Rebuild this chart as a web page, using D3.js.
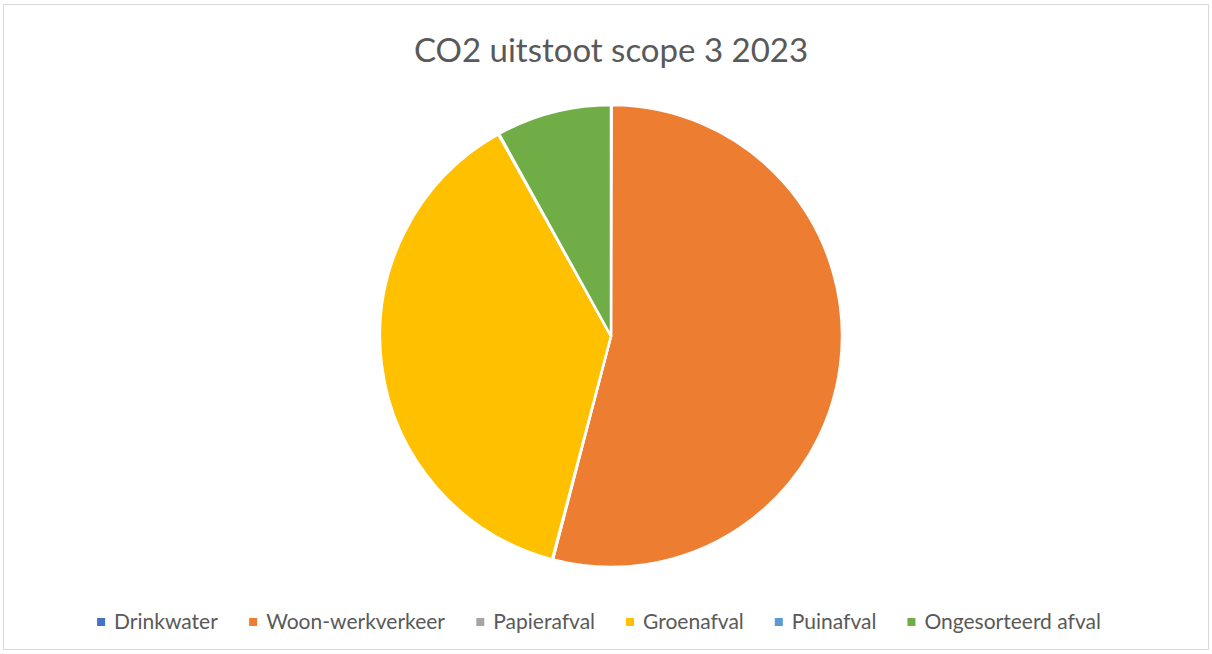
<!DOCTYPE html>
<html><head><meta charset="utf-8">
<script src="https://cdn.jsdelivr.net/npm/d3@7"></script>
<style>body{margin:0;background:#fff;}svg{display:block;}</style>
</head><body>
<svg id="c" width="1212" height="654"></svg>
<script>
const categories = ["Drinkwater","Woon-werkverkeer","Papierafval","Groenafval","Puinafval","Ongesorteerd afval"];
const values = [0.05, 54.0, 0.05, 37.8, 0.05, 8.05];
const colors = ["#4472C4","#ED7D31","#A5A5A5","#FFC000","#5B9BD5","#70AD47"];
const title = "CO2 uitstoot scope 3 2023";

const svg = d3.select("#c");
const W = 1212, H = 654;
svg.append("rect").attr("x",3.5).attr("y",4.5).attr("width",1205).attr("height",645)
  .attr("fill","#fff").attr("stroke","#d9d9d9").attr("stroke-width",1);

svg.append("text").attr("x",611).attr("y",62).attr("text-anchor","middle")
  .attr("font-family","Lato, 'Open Sans', sans-serif").attr("font-size",33)
  .attr("fill","#595959").text(title);

const cx = 611, cy = 336, r = 231;
const pie = d3.pie().sort(null).value(d => d.v);
const arc = d3.arc().innerRadius(0).outerRadius(r);
const data = categories.map((c,i)=>({c, v: values[i], col: colors[i]}));
const g = svg.append("g").attr("transform",`translate(${cx},${cy})`);
g.selectAll("path").data(pie(data)).join("path")
  .attr("d", arc).attr("fill", d => d.data.col)
  .attr("stroke","#fff").attr("stroke-width",2.5).attr("stroke-linejoin","round");

// legend
const lg = svg.append("g");
const items = lg.selectAll("g").data(data).join("g");
items.append("rect").attr("width",8).attr("height",8).attr("y",-11).attr("fill",d=>d.col);
items.append("text").attr("x",17).attr("y",0)
  .attr("font-family","Lato, 'Open Sans', sans-serif").attr("font-size",21)
  .attr("fill","#595959").text(d=>d.c);
const gap = 31;
let widths = [];
items.each(function(){ widths.push(this.getBBox().width); });
const total = d3.sum(widths) + gap*(widths.length-1);
let x = (W - total)/2 - 7;
items.each(function(d,i){ d3.select(this).attr("transform",`translate(${x},629)`); x += widths[i] + gap; });
</script>
</body></html>
